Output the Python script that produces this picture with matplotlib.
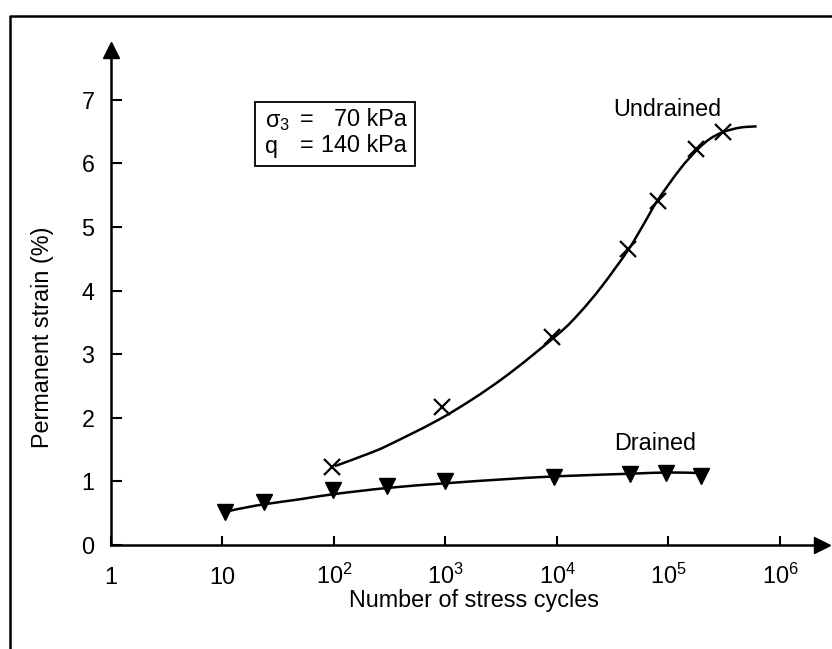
import numpy as np
import matplotlib
matplotlib.use("Agg")
import matplotlib.pyplot as plt
from matplotlib.patches import Rectangle, PathPatch
from matplotlib.lines import Line2D
from matplotlib.path import Path

plt.rcParams["font.family"] = ["Liberation Sans", "DejaVu Sans"]
plt.rcParams["mathtext.fontset"] = "custom"
plt.rcParams["mathtext.rm"] = "Liberation Sans"

# Measured points (number of cycles, permanent strain %)
undrained_n = [96, 930, 9000, 43000, 80000, 178000, 310000]
undrained_eps = [1.23, 2.17, 3.27, 4.65, 5.41, 6.23, 6.49]

drained_n = [10.5, 23.5, 98, 297, 990, 9400, 45000, 95000, 196000]
drained_eps = [0.52, 0.68, 0.86, 0.93, 1.00, 1.07, 1.12, 1.13, 1.08]

# Fitted curves
undrained_fit_n = [102, 200, 316, 1000, 3160, 10000, 15800, 25100, 43600,
                   60300, 79400, 126000, 178000, 234000, 309000, 437000, 617000]
undrained_fit_eps = [1.24, 1.43, 1.58, 2.03, 2.60, 3.30, 3.64, 4.06, 4.64,
                     5.05, 5.41, 5.90, 6.20, 6.38, 6.49, 6.56, 6.58]

drained_fit_n = [10.5, 20, 50, 100, 316, 1000, 3160, 10000, 45000, 100000, 195000]
drained_fit_eps = [0.52, 0.62, 0.72, 0.80, 0.90, 0.97, 1.03, 1.08, 1.12, 1.14, 1.13]

x_ticks = [1, 10, 1e2, 1e3, 1e4, 1e5, 1e6]
x_tick_labels = ["1", "10", r"$\mathregular{10^2}$", r"$\mathregular{10^3}$",
                 r"$\mathregular{10^4}$", r"$\mathregular{10^5}$", r"$\mathregular{10^6}$"]
y_ticks = [0, 1, 2, 3, 4, 5, 6, 7]

W, H = 832, 649
fs = 16.8


def px(x, y):
    # pixel position -> figure fraction
    return x / W, 1 - y / H


def smooth_path(n, eps):
    # Catmull-Rom through the traced points, drawn as cubic Bezier pieces
    pts = np.column_stack([np.log10(n), eps])
    p = np.vstack([pts[0], pts, pts[-1]])
    verts = [pts[0]]
    codes = [Path.MOVETO]
    for i in range(1, len(p) - 2):
        c1 = p[i] + (p[i + 1] - p[i - 1]) / 6
        c2 = p[i + 1] - (p[i + 2] - p[i]) / 6
        verts += [c1, c2, p[i + 1]]
        codes += [Path.CURVE4] * 3
    verts = np.array(verts)
    verts[:, 0] = 10 ** verts[:, 0]
    return Path(verts, codes)


fig = plt.figure(figsize=(W / 100, H / 100), dpi=100)
ax = fig.add_axes([111 / W, 104 / H, 711 / W, 495 / H])

ax.set_xscale("log")
ax.set_xlim(1, 10 ** 6.377)
ax.set_ylim(0, 7.78)

for fn, fe in [(undrained_fit_n, undrained_fit_eps), (drained_fit_n, drained_fit_eps)]:
    ax.add_patch(PathPatch(smooth_path(fn, fe), facecolor="none",
                           edgecolor="black", lw=1.8))
ax.plot(undrained_n, undrained_eps, "x", color="black", ms=11.5, mew=1.6)
ax.plot(drained_n, drained_eps, "v", color="black", ms=11)

ax.set_xticks(x_ticks, x_tick_labels)
ax.minorticks_off()
ax.set_yticks(y_ticks)

for s in ["top", "right"]:
    ax.spines[s].set_visible(False)
for s in ["left", "bottom"]:
    ax.spines[s].set_linewidth(1.8)

ax.tick_params(axis="x", direction="in", length=6.5, width=1.5, pad=28, labelsize=fs)
ax.tick_params(axis="y", direction="in", length=8, width=1.5, pad=12, labelsize=fs)
for lab in ax.get_xticklabels():
    lab.set_va("baseline")

# axis arrows
ax.plot(1, 0, ">k", ms=12, transform=ax.get_yaxis_transform(), clip_on=False)
ax.plot(1, 1, "^k", ms=12, transform=ax.get_xaxis_transform(), clip_on=False)

ax.set_xlabel("Number of stress cycles", fontsize=fs, va="center")
ax.xaxis.set_label_coords(0.51, -0.113)
ax.set_ylabel("Permanent strain (%)", fontsize=fs, va="center")
ax.yaxis.set_label_coords(-0.097, 0.42)

# curve labels
fig.text(*px(613, 110), "Undrained", fontsize=fs, va="center", ha="left")
fig.text(*px(614, 444), "Drained", fontsize=fs, va="center", ha="left")

# condition box
fig.add_artist(Rectangle(px(255, 166), (415 - 255) / W, (166 - 102) / H,
                         fill=False, lw=1.3, edgecolor="black",
                         transform=fig.transFigure))
fig.text(*px(265, 121), r"$\mathregular{σ_3}$", fontsize=fs, va="center")
fig.text(*px(300, 120), "=", fontsize=fs, va="center")
fig.text(*px(407, 120), "70 kPa", fontsize=fs, va="center", ha="right")
fig.text(*px(265, 146), "q", fontsize=fs, va="center")
fig.text(*px(300, 146), "=", fontsize=fs, va="center")
fig.text(*px(407, 146), "140 kPa", fontsize=fs, va="center", ha="right")

# outer frame
fig.add_artist(Line2D([10 / W, 10 / W, 1], [0, 1 - 16 / H, 1 - 16 / H],
                      color="black", lw=1.8, transform=fig.transFigure))

fig.savefig("out.png", dpi=100)
